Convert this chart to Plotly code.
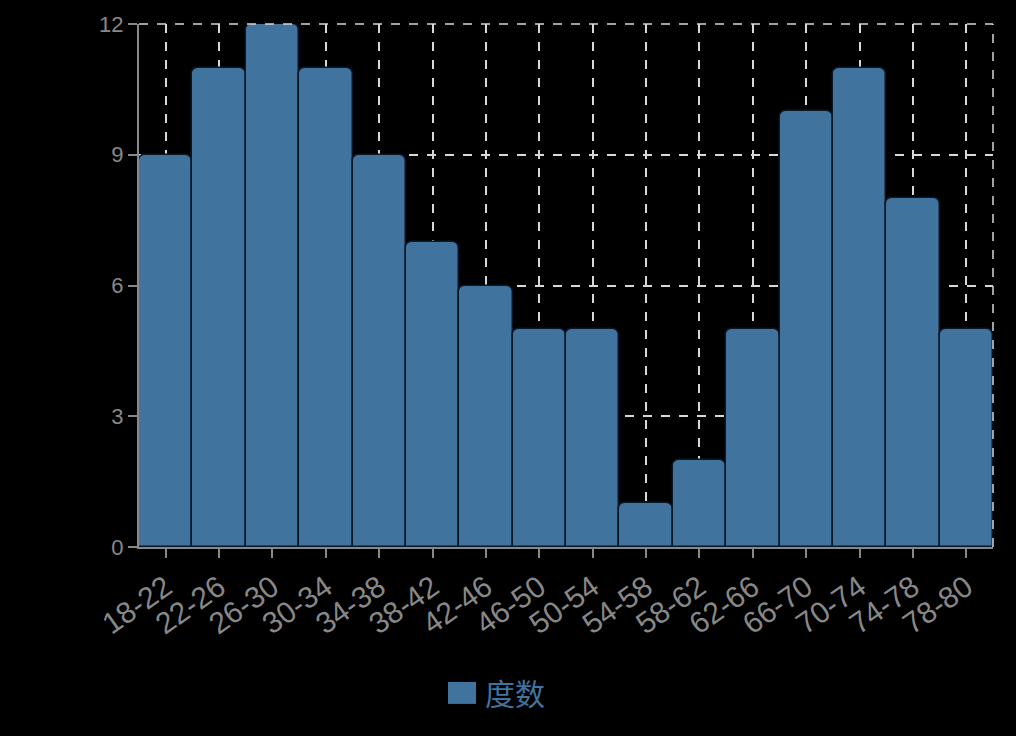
import plotly.graph_objects as go

bins = ['18-22', '22-26', '26-30', '30-34', '34-38', '38-42', '42-46', '46-50',
        '50-54', '54-58', '58-62', '62-66', '66-70', '70-74', '74-78', '78-80']
counts = [9, 11, 12, 11, 9, 7, 6, 5, 5, 1, 2, 5, 10, 11, 8, 5]
legend_label = '度数'

bar_color = '#41739f'
axis_color = '#888888'
grid_color = '#d8d8d8'

fig = go.Figure(go.Bar(
    name=legend_label,
    x=bins,
    y=counts,
    marker=dict(color=bar_color, line=dict(color='#0b1626', width=1.5), cornerradius=7),
    showlegend=False,
))

fig.update_layout(
    width=1016, height=736,
    paper_bgcolor='#000000', plot_bgcolor='#000000',
    margin=dict(l=139, r=23, t=20, b=189),
    bargap=0,
    font=dict(family='Liberation Sans, Arial, Noto Sans CJK SC', color=axis_color),
    xaxis=dict(
        range=[-0.5, 15.5],
        showline=True, linecolor=axis_color, linewidth=2,
        ticks='outside', tickcolor=axis_color, ticklen=9, tickwidth=1.5,
        tickangle=-35, tickfont=dict(size=30, color=axis_color),
        showgrid=True, gridcolor=grid_color, griddash='dash', gridwidth=1.5,
    ),
    yaxis=dict(
        range=[0, 12], tickvals=[0, 3, 6, 9, 12],
        showline=True, linecolor=axis_color, linewidth=2,
        ticks='outside', tickcolor=axis_color, ticklen=9, tickwidth=1.5,
        tickfont=dict(size=22, color=axis_color),
        showgrid=True, gridcolor=grid_color, griddash='dash', gridwidth=1.5,
        zeroline=False,
    ),
)

# dashed border on the top and right edges of the plot area
fig.add_shape(type='line', xref='paper', yref='paper', x0=1, x1=1, y0=0, y1=1,
              line=dict(color=grid_color, width=1.5, dash='dash'))
fig.add_shape(type='line', xref='paper', yref='paper', x0=0, x1=1, y0=1, y1=1,
              line=dict(color=grid_color, width=1.5, dash='dash'))

# legend drawn by hand so the swatch can be large
fig.add_shape(type='rect', xref='paper', yref='paper',
              x0=0.3618, x1=0.3946, y0=-0.300, y1=-0.258,
              fillcolor=bar_color, line=dict(width=0))
fig.add_annotation(xref='paper', yref='paper', x=0.403, y=-0.277,
                   xanchor='left', yanchor='middle', showarrow=False,
                   text=legend_label,
                   font=dict(size=30, color=bar_color, family='Noto Sans CJK SC'))

fig.write_html('out.html', config={'displayModeBar': False},
               post_script="document.body.style.margin='0';"
                           "document.body.style.background='#000';")
